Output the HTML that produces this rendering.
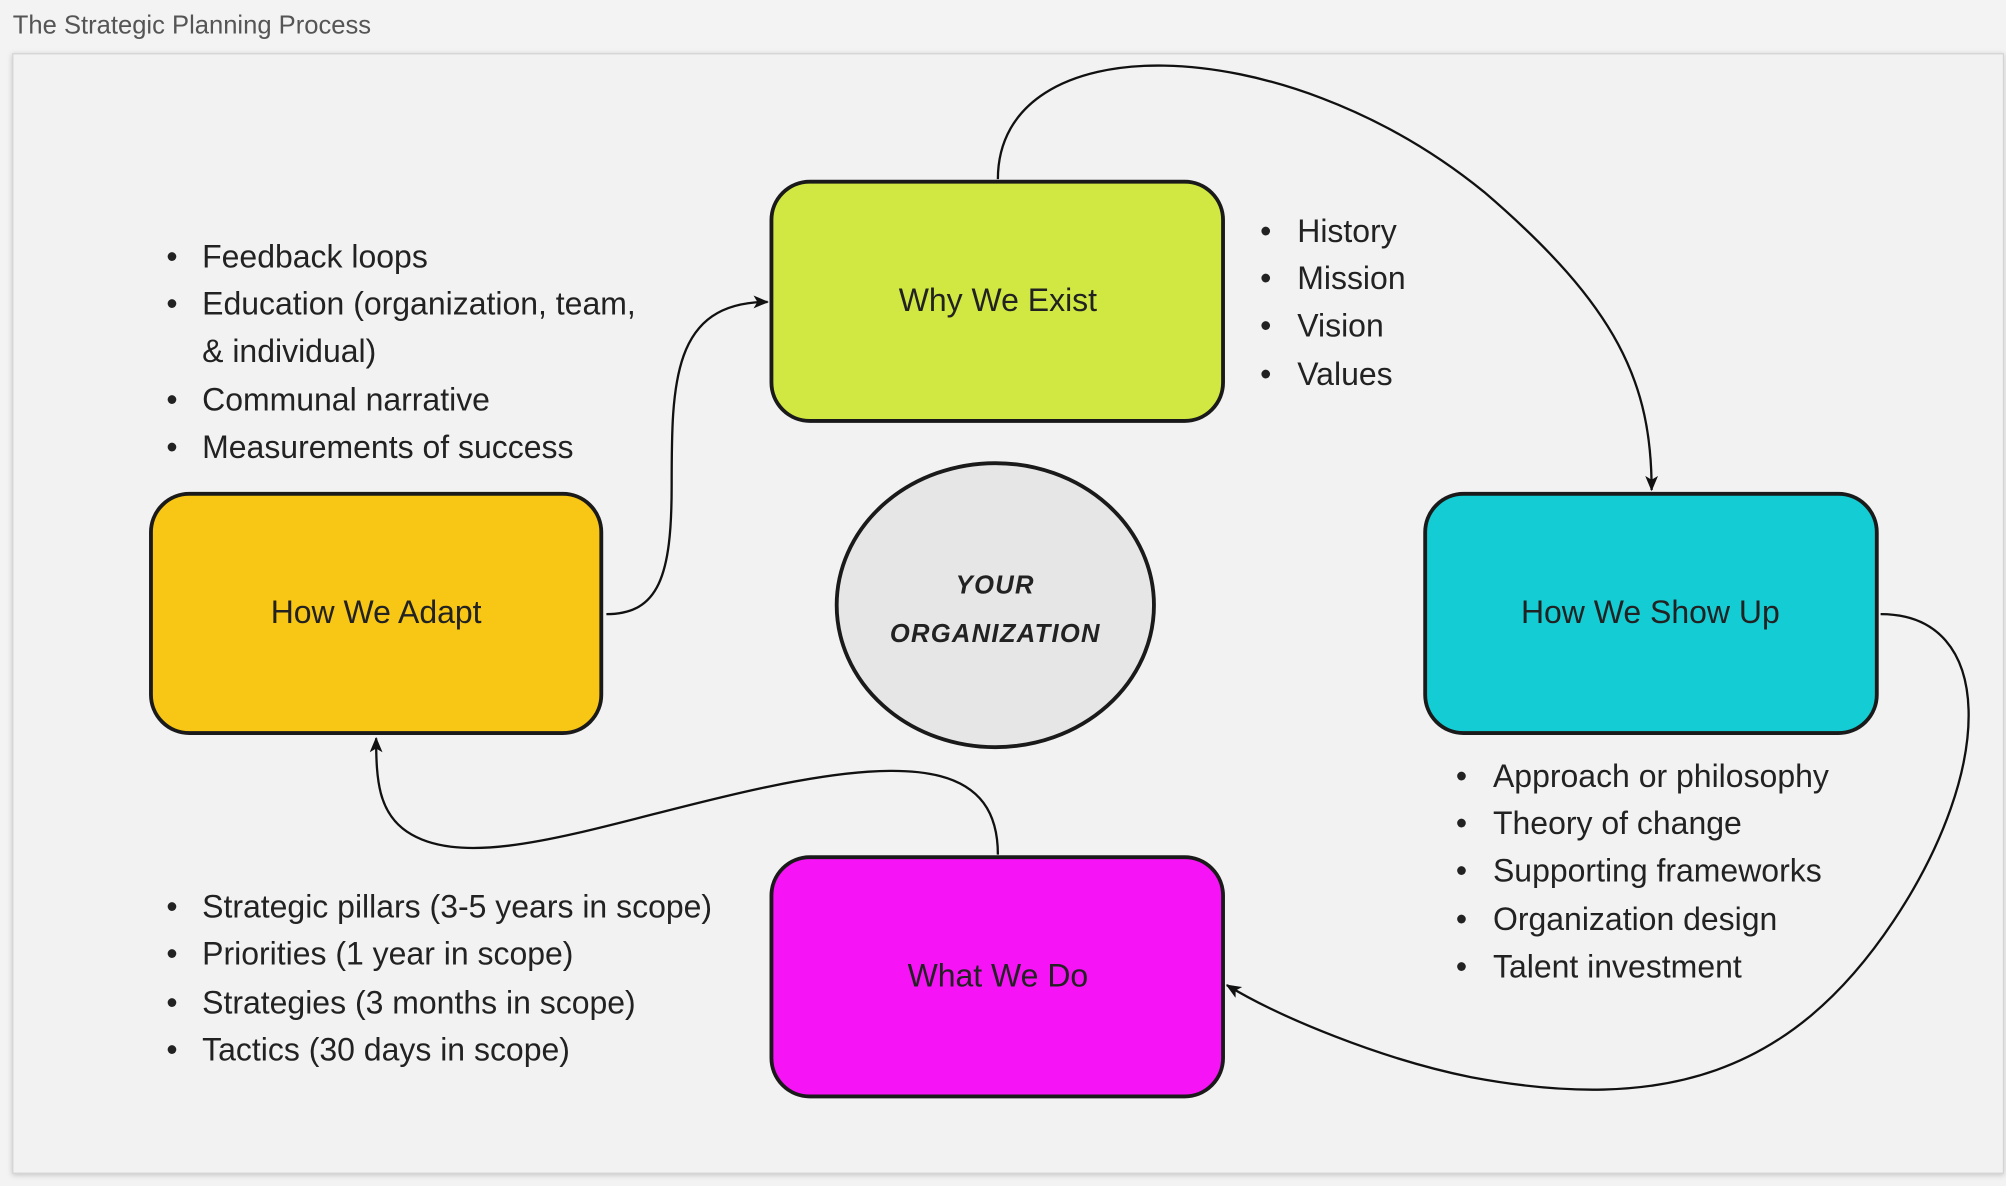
<!DOCTYPE html>
<html><head><meta charset="utf-8"><style>
html,body{margin:0;padding:0;background:#f3f3f3;}
svg{display:block}
text{font-family:"Liberation Sans","DejaVu Sans",sans-serif;fill:#222;}
</style></head><body>
<svg width="2006" height="1186" viewBox="0 0 1568 927" xmlns="http://www.w3.org/2000/svg">
<defs>
<marker id="ah" markerWidth="12" markerHeight="10" refX="11" refY="5" orient="auto" markerUnits="userSpaceOnUse">
<path d="M0,0 L12,5 L0,10 L3,5 Z" fill="#111"/>
</marker>
<filter id="sh" x="-2%" y="-2%" width="104%" height="104%"><feDropShadow dx="0" dy="1" stdDeviation="2" flood-color="#000" flood-opacity="0.2"/></filter>
</defs>
<rect width="1568" height="927" fill="#f3f3f3"/>
<text x="10" y="26" font-size="20" style="fill:#555">The Strategic Planning Process</text>
<rect x="10" y="42" width="1556" height="875" fill="#f2f2f2" stroke="#d4d4d4" filter="url(#sh)"/>

<g stroke="#1a1a1a" stroke-width="3">
<rect x="603" y="142" width="353" height="187" rx="30" fill="#d0e841"/>
<rect x="118" y="386" width="352" height="187" rx="30" fill="#f8c614"/>
<rect x="1114" y="386" width="353" height="187" rx="30" fill="#14ccd4"/>
<rect x="603" y="670" width="353" height="187" rx="30" fill="#f614f6"/>
<ellipse cx="778" cy="473" rx="124" ry="111" fill="#e6e6e6"/>
</g>

<g font-size="25" text-anchor="middle">
<text x="780" y="243">Why We Exist</text>
<text x="294" y="487">How We Adapt</text>
<text x="1290" y="487">How We Show Up</text>
<text x="780" y="771">What We Do</text>
</g>
<g font-size="20" font-weight="bold" font-style="italic" text-anchor="middle" style="letter-spacing:1px">
<text x="778" y="464">YOUR</text>
<text x="778" y="502">ORGANIZATION</text>
</g>

<g fill="none" stroke="#111" stroke-width="1.8" marker-end="url(#ah)">
<path d="M474,480 C515,480 525,450 525,380 C525,300 525,236 600,236"/>
<path d="M780,140 C780,20 1000,20 1160,150 C1265,240 1291,300 1291,383"/>
<path d="M1470,480 C1560,480 1560,600 1480,720 C1400,840 1300,870 1150,842 C1080,828 1000,795 959,770"/>
<path d="M780,668 C780,600 720,590 600,615 C480,640 370,685 318,650 C296,635 294,610 294,577"/>
</g>

<g font-size="25">
<g>
<text x="130" y="209">•</text><text x="158" y="209">Feedback loops</text>
<text x="130" y="246">•</text><text x="158" y="246">Education (organization, team,</text>
<text x="158" y="283">&amp; individual)</text>
<text x="130" y="321">•</text><text x="158" y="321">Communal narrative</text>
<text x="130" y="358">•</text><text x="158" y="358">Measurements of success</text>
</g>
<g>
<text x="985" y="189">•</text><text x="1014" y="189">History</text>
<text x="985" y="226">•</text><text x="1014" y="226">Mission</text>
<text x="985" y="263">•</text><text x="1014" y="263">Vision</text>
<text x="985" y="301">•</text><text x="1014" y="301">Values</text>
</g>
<g>
<text x="1138" y="615">•</text><text x="1167" y="615">Approach or philosophy</text>
<text x="1138" y="652">•</text><text x="1167" y="652">Theory of change</text>
<text x="1138" y="689">•</text><text x="1167" y="689">Supporting frameworks</text>
<text x="1138" y="727">•</text><text x="1167" y="727">Organization design</text>
<text x="1138" y="764">•</text><text x="1167" y="764">Talent investment</text>
</g>
<g>
<text x="130" y="717">•</text><text x="158" y="717">Strategic pillars (3-5 years in scope)</text>
<text x="130" y="754">•</text><text x="158" y="754">Priorities (1 year in scope)</text>
<text x="130" y="792">•</text><text x="158" y="792">Strategies (3 months in scope)</text>
<text x="130" y="829">•</text><text x="158" y="829">Tactics (30 days in scope)</text>
</g>
</g>
</svg>
</body></html>
